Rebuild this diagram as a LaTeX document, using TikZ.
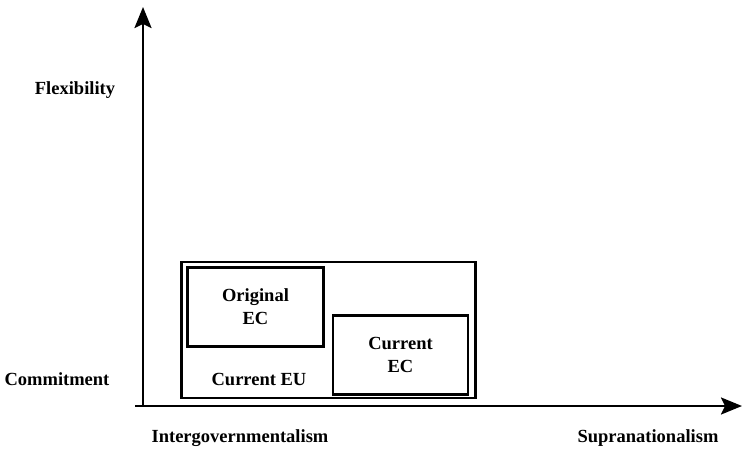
\documentclass[tikz,border=0pt]{standalone}
\usepackage{fontspec}
\setmainfont{Liberation Serif}
\usetikzlibrary{arrows.meta}
\tikzset{
    lbl/.style = {font=\fontsize{18.5}{23}\selectfont\bfseries, align=center, inner sep=0pt},
    area/.style = {draw, line width=2.2pt, inner sep=0pt}
}

\begin{document}
\begin{tikzpicture}[x=1pt, y=-1pt]
        \useasboundingbox (0, 0) rectangle (744, 449);
        % axes
        \coordinate (origin) at (143, 406);
        \coordinate (ytop) at (143, 7);
        \coordinate (xend) at (742, 406);
        \draw[line width=2.4pt, -{Stealth[length=21pt, width=17pt, inset=4pt]}] (origin) -- (ytop);
        \draw[line width=2.4pt, -{Stealth[length=21pt, width=17pt, inset=4pt]}] (135, 406) -- (xend);
        % axis labels
        \node[lbl] (flex) at (75, 90) {Flexibility};
        \node[lbl] (commit) at (57, 379) {Commitment};
        \node[lbl] (inter) at (240, 438) {Intergovernmentalism};
        \node[lbl] (supra) at (648, 438) {Supranationalism};
        % boxes
        \node[area, minimum width=294, minimum height=136] (eu) at (328.5, 330) {};
        \node[area, minimum width=136, minimum height=79] (orig) at (255.5, 307) {};
        \node[area, minimum width=135, minimum height=79] (cur) at (400.5, 355) {};
        \node[lbl] (origtxt) at (orig.center) {Original\\EC};
        \node[lbl] (curtxt) at (cur.center) {Current\\EC};
        \node[lbl] (eutxt) at (259, 379) {Current EU};
\end{tikzpicture}
\end{document}
